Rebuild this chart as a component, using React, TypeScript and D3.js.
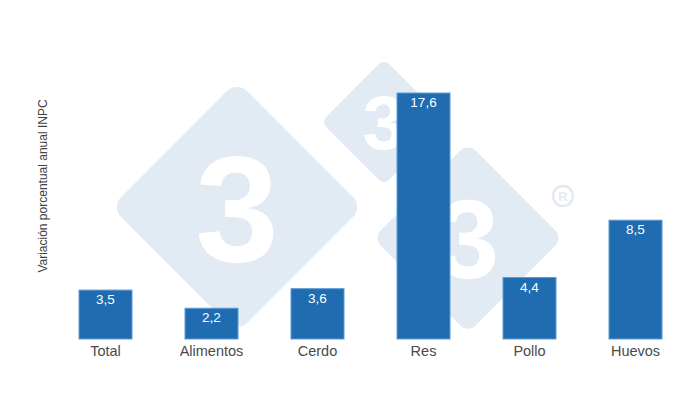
import React from "react";
import * as d3 from "d3";

const categories = ["Total", "Alimentos", "Cerdo", "Res", "Pollo", "Huevos"];
const values = [3.5, 2.2, 3.6, 17.6, 4.4, 8.5];
const yTitle = "Variación porcentual anual INPC";

const W = 700;
const H = 400;
const margin = { top: 93, bottom: 61, left: 52.5, right: 11.5 };

export default function App() {
  const x = d3
    .scaleBand<string>()
    .domain(categories)
    .range([margin.left, W - margin.right])
    .paddingInner(0.5)
    .paddingOuter(0.25);
  const y = d3
    .scaleLinear()
    .domain([0, 17.6])
    .range([H - margin.bottom, margin.top]);
  const fmt = (v: number) => v.toFixed(1).replace(".", ",");

  const diamonds = [
    { cx: 237, cy: 207, r: 126, fs: 150 },
    { cx: 384, cy: 122, r: 63, fs: 76 },
    { cx: 468, cy: 238, r: 95, fs: 112 },
  ];
  const wm = "#e2eaf3";

  return (
    <svg width={W} height={H} style={{ position: "absolute", left: 0, top: 0, background: "#fff" }}
      fontFamily="'Liberation Sans', Arial, sans-serif">
      <rect width={W} height={H} fill="#fff" />
      <g>
        {diamonds.map((d, i) => {
          const s = d.r * Math.SQRT2;
          return (
            <g key={i}>
              <rect x={d.cx - s / 2} y={d.cy - s / 2} width={s} height={s} rx={s * 0.08}
                fill={wm} transform={`rotate(45 ${d.cx} ${d.cy})`} />
              <text x={d.cx} y={d.cy} dy="0.36em" textAnchor="middle" fill="#fff"
                fontWeight="bold" fontSize={d.fs}
                fontFamily="'Liberation Sans', Arial, sans-serif">3</text>
            </g>
          );
        })}
        <circle cx={563} cy={196} r={10} fill="none" stroke={wm} strokeWidth={2.5} />
        <text x={563} y={196} dy="0.36em" textAnchor="middle" fill={wm} fontSize={13} fontWeight="bold">R</text>
      </g>
      {categories.map((c, i) => (
        <g key={c}>
          <rect x={x(c)} y={y(values[i])} width={x.bandwidth()} height={y(0) - y(values[i])}
            fill="#1f6cb0" stroke="#5d9bd6" strokeWidth={1} />
          <text x={x(c)! + x.bandwidth() / 2} y={y(values[i]) + 14} textAnchor="middle"
            fill="#fff" fontSize={13.5}>{fmt(values[i])}</text>
          <text x={x(c)! + x.bandwidth() / 2} y={y(0) + 17} textAnchor="middle"
            fill="#4a4a4a" fontSize={14.5}>{c}</text>
        </g>
      ))}
      <text transform={`translate(47, ${(y(0) + margin.top) / 2 - 30}) rotate(-90)`}
        textAnchor="middle" fill="#404040" fontSize={12}>{yTitle}</text>
    </svg>
  );
}
